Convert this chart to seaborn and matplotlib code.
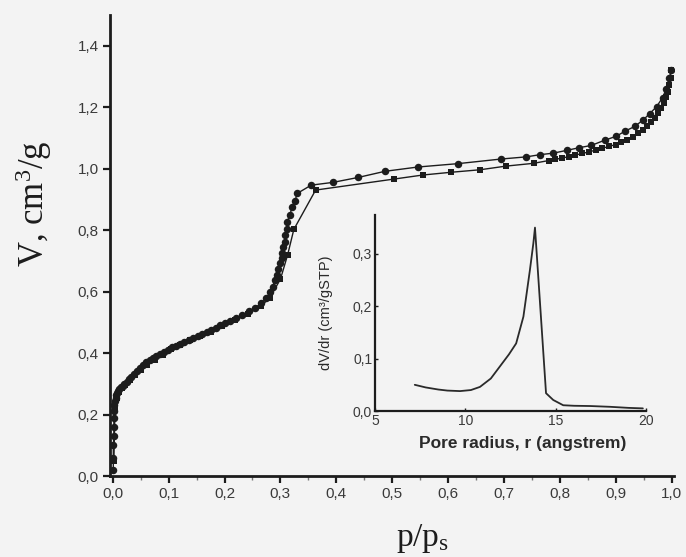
import matplotlib
matplotlib.use("Agg")
import matplotlib.pyplot as plt
from matplotlib.ticker import FixedLocator, FuncFormatter
import seaborn as sns
import pandas as pd

# Isotherm, circles (upper branch)
circ_p = [0.001, 0.001, 0.001, 0.002, 0.002, 0.002, 0.003, 0.003, 0.004, 0.005,
          0.006, 0.008, 0.010, 0.012, 0.015, 0.018, 0.021, 0.025, 0.029, 0.033,
          0.038, 0.043, 0.048, 0.054, 0.060, 0.066, 0.072, 0.078, 0.085, 0.092,
          0.099, 0.106, 0.113, 0.120, 0.128, 0.136, 0.144, 0.152, 0.160, 0.168,
          0.176, 0.184, 0.192, 0.200, 0.210, 0.220, 0.232, 0.244, 0.255, 0.266,
          0.275, 0.281, 0.286, 0.290, 0.293, 0.296, 0.299, 0.302, 0.303, 0.305,
          0.308, 0.309, 0.312, 0.312, 0.317, 0.321, 0.326, 0.330, 0.355, 0.394,
          0.439, 0.487, 0.546, 0.618, 0.695, 0.740, 0.764, 0.788, 0.812, 0.835,
          0.856, 0.880, 0.901, 0.916, 0.934, 0.949, 0.961, 0.973, 0.984, 0.990,
          0.996, 0.999]
circ_v = [0.02, 0.06, 0.10, 0.13, 0.16, 0.19, 0.21, 0.23, 0.245, 0.255,
          0.262, 0.270, 0.277, 0.283, 0.289, 0.294, 0.298, 0.306, 0.315, 0.323,
          0.333, 0.343, 0.352, 0.362, 0.370, 0.377, 0.384, 0.390, 0.397, 0.404,
          0.411, 0.418, 0.424, 0.430, 0.437, 0.443, 0.450, 0.456, 0.462, 0.469,
          0.476, 0.483, 0.490, 0.497, 0.505, 0.513, 0.524, 0.536, 0.548, 0.562,
          0.578, 0.597, 0.615, 0.637, 0.654, 0.672, 0.692, 0.708, 0.726, 0.746,
          0.762, 0.784, 0.802, 0.827, 0.849, 0.876, 0.894, 0.919, 0.946, 0.955,
          0.971, 0.991, 1.005, 1.016, 1.031, 1.038, 1.045, 1.050, 1.059, 1.068,
          1.075, 1.092, 1.105, 1.121, 1.137, 1.158, 1.179, 1.201, 1.231, 1.258,
          1.295, 1.320]

# Isotherm, squares (lower branch)
sq_p = [0.002, 0.004, 0.007, 0.011, 0.016, 0.022, 0.030, 0.040, 0.050, 0.062,
        0.075, 0.090, 0.105, 0.120, 0.138, 0.156, 0.175, 0.195, 0.218, 0.242,
        0.265, 0.281, 0.300, 0.313, 0.324, 0.363, 0.504, 0.555, 0.606, 0.657,
        0.704, 0.753, 0.780, 0.792, 0.804, 0.816, 0.828, 0.840, 0.852, 0.864,
        0.876, 0.888, 0.900, 0.910, 0.920, 0.930, 0.940, 0.948, 0.956, 0.963,
        0.970, 0.976, 0.981, 0.986, 0.990, 0.993, 0.996, 0.998, 0.999]
sq_v = [0.05, 0.22, 0.255, 0.272, 0.285, 0.295, 0.312, 0.330, 0.346, 0.362,
        0.378, 0.395, 0.412, 0.426, 0.441, 0.455, 0.470, 0.487, 0.506, 0.528,
        0.552, 0.580, 0.640, 0.720, 0.802, 0.930, 0.966, 0.979, 0.988, 0.996,
        1.008, 1.017, 1.026, 1.030, 1.034, 1.039, 1.044, 1.049, 1.054, 1.060,
        1.066, 1.072, 1.078, 1.086, 1.094, 1.103, 1.115, 1.126, 1.139, 1.152,
        1.166, 1.181, 1.196, 1.213, 1.232, 1.250, 1.272, 1.295, 1.320]

# Inset: pore size distribution
pore_r = [7.2, 7.8, 8.5, 9.0, 9.7, 10.3, 10.8, 11.4, 11.9, 12.4, 12.8, 13.2,
          13.56, 13.75, 13.84, 14.45, 14.85, 15.4, 16.0, 16.9, 18.0, 19.0, 19.8]
pore_dv = [0.050, 0.045, 0.041, 0.039, 0.038, 0.040, 0.046, 0.062, 0.085, 0.108,
           0.129, 0.180, 0.269, 0.320, 0.350, 0.034, 0.021, 0.011, 0.010, 0.0095,
           0.008, 0.006, 0.005]

main_xticks = [0.0, 0.1, 0.2, 0.3, 0.4, 0.5, 0.6, 0.7, 0.8, 0.9, 1.0]
main_yticks = [0.0, 0.2, 0.4, 0.6, 0.8, 1.0, 1.2, 1.4]
inset_xticks = [5, 10, 15, 20]
inset_yticks = [0.0, 0.1, 0.2, 0.3]

sns.set_style("ticks")
plt.rcParams['font.family'] = ['Liberation Sans', 'DejaVu Sans']
plt.rcParams['mathtext.fontset'] = 'custom'
plt.rcParams['mathtext.rm'] = 'Liberation Serif'
plt.rcParams['mathtext.it'] = 'Liberation Serif:italic'

ink = '#1c1c1c'
bg = '#f3f3f3'

fig = plt.figure(figsize=(6.86, 5.57), dpi=100, facecolor=bg)
ax = fig.add_axes([0.1603, 0.1454, 0.822, 0.828])
ax.set_facecolor('none')

circ_df = pd.DataFrame({'p': circ_p, 'V': circ_v})
sq_df = pd.DataFrame({'p': sq_p, 'V': sq_v})
sns.lineplot(data=circ_df, x='p', y='V', sort=False, estimator=None, ax=ax,
             color=ink, linewidth=1.0, marker='o', markersize=5.4,
             markeredgewidth=0, markerfacecolor=ink)
sns.lineplot(data=sq_df, x='p', y='V', sort=False, estimator=None, ax=ax,
             color=ink, linewidth=1.0, marker='s', markersize=4.3,
             markeredgewidth=0, markerfacecolor=ink)

ax.set_xlim(-0.005, 1.004)
ax.set_ylim(0, 1.5)
sns.despine(ax=ax)
for s in ['left', 'bottom']:
    ax.spines[s].set_linewidth(2.0)
    ax.spines[s].set_color(ink)

comma = FuncFormatter(lambda v, pos: f'{v:.1f}'.replace('.', ','))
ax.xaxis.set_major_locator(FixedLocator(main_xticks))
ax.xaxis.set_minor_locator(FixedLocator([t + 0.05 for t in main_xticks[:-1]]))
ax.yaxis.set_major_locator(FixedLocator(main_yticks))
ax.xaxis.set_major_formatter(comma)
ax.yaxis.set_major_formatter(comma)
ax.tick_params(axis='both', which='major', direction='out', length=5, width=1.6,
               color=ink, labelsize=11, labelcolor='#3a3a3a', pad=3)
ax.tick_params(axis='x', which='minor', direction='out', length=3, width=1.0,
               color='#777777')

ax.set_xlabel('p/p$_\\mathrm{s}$', family='Liberation Serif', fontsize=24, color=ink)
ax.set_ylabel('V, cm$^\\mathrm{3}$/g', family='Liberation Serif', fontsize=25, color=ink)
ax.xaxis.set_label_coords(0.555, -0.1)
ax.yaxis.set_label_coords(-0.1, 0.59)

# inset
ins = fig.add_axes([0.5466, 0.2621, 0.3958, 0.3519])
ins.set_facecolor('none')
sns.lineplot(x=pore_r, y=pore_dv, sort=False, estimator=None, ax=ins,
             color='#2a2a2a', linewidth=1.3)
ins.set_xlim(5, 20)
ins.set_ylim(0, 0.374)
sns.despine(ax=ins)
for s in ['left', 'bottom']:
    ins.spines[s].set_linewidth(1.6)
    ins.spines[s].set_color(ink)
ins.xaxis.set_major_locator(FixedLocator(inset_xticks))
ins.yaxis.set_major_locator(FixedLocator(inset_yticks))
ins.xaxis.set_major_formatter(FuncFormatter(lambda v, pos: f'{v:.0f}'))
ins.yaxis.set_major_formatter(comma)
ins.tick_params(axis='both', which='major', direction='in', length=2, width=1.0,
                color=ink, labelsize=10, labelcolor='#3a3a3a', pad=2)
ins.set_xlabel('Pore radius, r (angstrem)', fontsize=12.5, fontweight='bold',
               color='#2a2a2a')
ins.set_ylabel('dV/dr (cm³/gSTP)', fontsize=10.5, color='#2a2a2a')
ins.xaxis.set_label_coords(0.545, -0.13)
ins.yaxis.set_label_coords(-0.155, 0.5)

fig.savefig('out.png', dpi=100, facecolor=bg)
